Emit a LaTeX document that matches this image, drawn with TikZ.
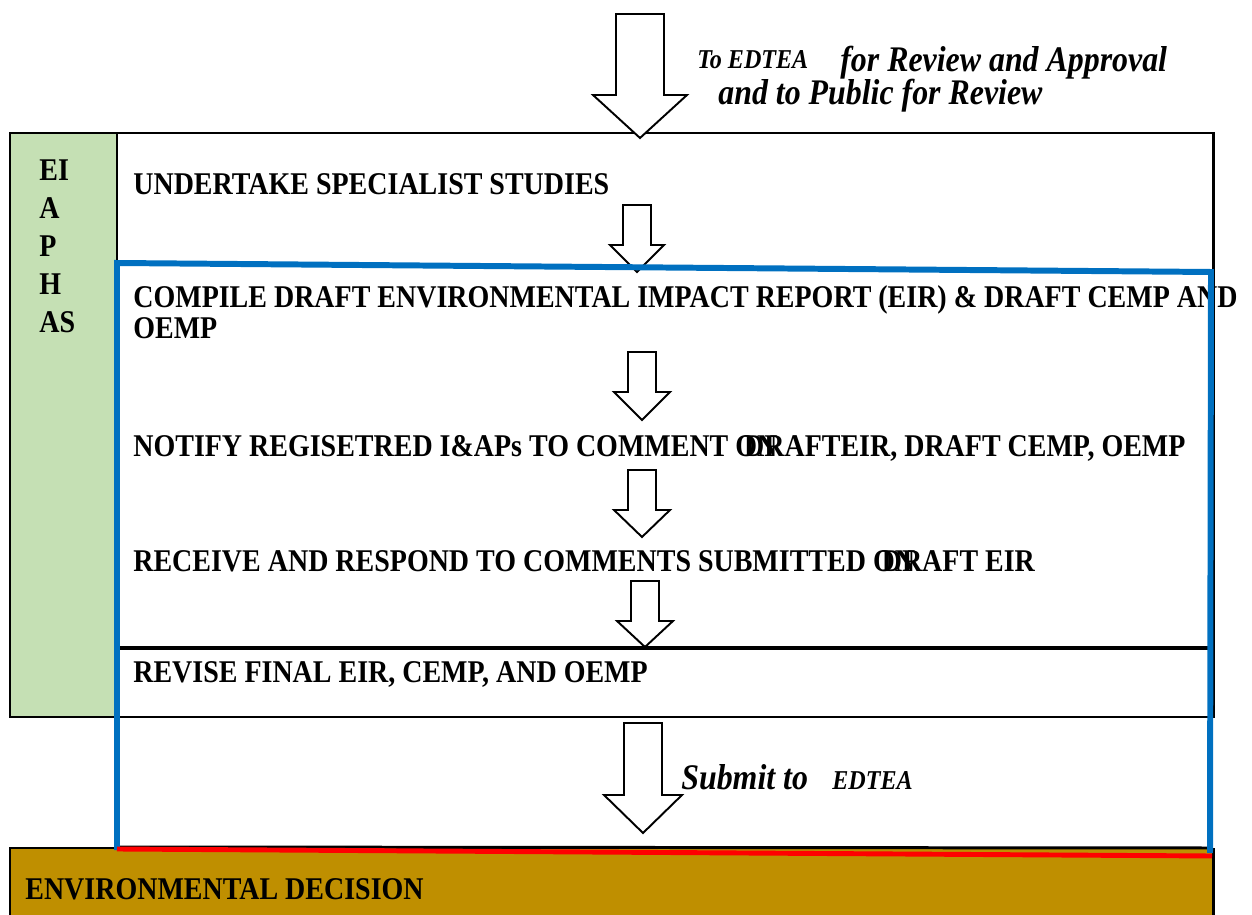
\documentclass[tikz,border=0pt]{standalone}
\usepackage{fontspec}
\setmainfont{Liberation Serif}[FakeStretch=0.885]
\usepackage{xcolor}
\usetikzlibrary{positioning}

\definecolor{phasegreen}{HTML}{C5E0B4}
\definecolor{decisionbrown}{HTML}{BF8F00}
\definecolor{eirblue}{HTML}{0070C0}

\tikzset{
  steptext/.style={anchor=base west, inner sep=0pt, align=left, font=\bfseries\fontsize{18}{18.2}\selectfont},
  notetext/.style={anchor=base west, inner sep=0pt, font=\bfseries\itshape\fontsize{20.5}{20}\selectfont},
  smallnote/.style={anchor=base west, inner sep=0pt, font=\bfseries\itshape\fontsize{15.5}{15}\selectfont},
  boxline/.style={line width=1.7pt},
  blockarr/.style={draw=black, fill=white, line width=1.1pt, line join=miter},
}

% hollow down arrow: x, top, neck, tip, half shaft, half head
\newcommand{\blockarrow}[6]{%
  \draw[blockarr] (#1-#5,#2) -- (#1+#5,#2) -- (#1+#5,#3) -- (#1+#6,#3)
    -- (#1,#4) -- (#1-#6,#3) -- (#1-#5,#3) -- cycle;}

\begin{document}
\begin{tikzpicture}[x=0.02cm,y=-0.02cm]
  \useasboundingbox (0,0) rectangle (1252,915);

  % decision bar at the foot
  \fill[decisionbrown] (10,848) rectangle (1213,920);
  \draw[boxline] (10,920) -- (10,848) -- (117,848);
  \draw[boxline] (1213,848) -- (1213,920);
  \node[steptext] (decision) at (25,899) {ENVIRONMENTAL DECISION};

  % phase column and step frame
  \draw[boxline] (117,133) rectangle (1213,717);
  \draw[boxline, fill=phasegreen] (10,133) rectangle (117,717);
  % multi-line nodes sit on their last baseline
  \node[steptext, font=\bfseries\fontsize{18}{21.7}\selectfont] (phase) at (39,333) {EI\\A\\P\\H\\AS};
  \draw[line width=2.6pt] (117,648) -- (1210,648);
  \draw[boxline] (117,847) -- (1210,848);

  % steps
  \node[steptext] (studies) at (133,195) {UNDERTAKE SPECIALIST STUDIES};
  \node[steptext] (compile) at (133,339) {COMPILE DRAFT ENVIRONMENTAL IMPACT REPORT (EIR) \& DRAFT CEMP AND\\OEMP};
  \node[steptext] (notify) at (133,457) {NOTIFY REGISETRED I\&APs TO COMMENT ON\hspace{-1.05em}DRAFTEIR, DRAFT CEMP, OEMP};
  \node[steptext] (respond) at (133,572) {RECEIVE AND RESPOND TO COMMENTS SUBMITTED ON\hspace{-1.05em}DRAFT EIR};
  \node[steptext] (revise) at (133,683) {REVISE FINAL EIR, CEMP, AND OEMP};

  % arrows between the steps
  \blockarrow{640}{14}{95}{138}{24}{47}
  \blockarrow{637}{205}{245}{272}{14}{27}
  \blockarrow{642}{352}{392}{420}{14}{28}
  \blockarrow{642}{470}{510}{537}{14}{28}
  \blockarrow{645}{581}{621}{647}{14}{28}
  \blockarrow{643}{723}{795}{833}{19}{39}

  % notes beside the arrows
  \node[smallnote] (toedtea) at (697,69) {To EDTEA};
  \node[notetext] (review) at (840,72) {for Review and Approval};
  \node[notetext] (public) at (718,105) {and to Public for Review};
  \node[notetext] (submit) at (681,789) {Submit to};
  \node[smallnote] (edtea) at (832,789) {EDTEA};

  % EIR stage outline
  \draw[eirblue, line width=3.4pt] (117,850) -- (117,263) -- (1211,272) -- (1210,853);
  \draw[red, line width=2.8pt] (117,849) -- (1212,856);
\end{tikzpicture}
\end{document}
